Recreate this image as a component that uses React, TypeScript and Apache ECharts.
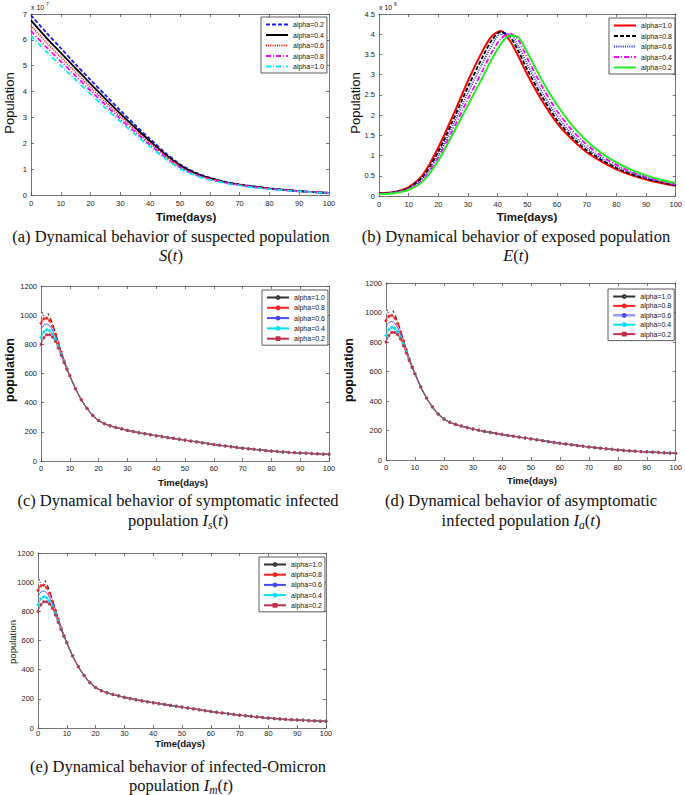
import React, { useEffect, useRef } from "react";
import * as echarts from "echarts";

// ---------- (a) S(t), values in units of 10^7 ----------
const T_S = [0, 5, 10, 15, 20, 25, 30, 35, 40, 45, 50, 55, 60, 65, 70, 75, 80, 85, 90, 95, 100];
const S_A02 = [6.95, 6.3, 5.68, 5.05, 4.45, 3.86, 3.27, 2.7, 2.16, 1.64, 1.19, 0.88, 0.67, 0.52, 0.41, 0.33, 0.26, 0.2, 0.15, 0.11, 0.08];
const S_A04 = [6.75, 6.1, 5.5, 4.9, 4.3, 3.72, 3.15, 2.6, 2.08, 1.58, 1.15, 0.85, 0.65, 0.5, 0.4, 0.32, 0.25, 0.2, 0.15, 0.11, 0.08];
const S_A06 = [6.55, 5.92, 5.33, 4.75, 4.16, 3.6, 3.04, 2.51, 2.0, 1.52, 1.1, 0.82, 0.63, 0.49, 0.39, 0.31, 0.25, 0.19, 0.15, 0.11, 0.08];
const S_A08 = [6.35, 5.74, 5.17, 4.6, 4.03, 3.48, 2.94, 2.43, 1.93, 1.47, 1.06, 0.79, 0.61, 0.48, 0.38, 0.3, 0.24, 0.19, 0.14, 0.11, 0.08];
const S_A10 = [6.15, 5.56, 5.0, 4.45, 3.9, 3.36, 2.84, 2.34, 1.86, 1.41, 1.02, 0.76, 0.59, 0.46, 0.37, 0.29, 0.23, 0.18, 0.14, 0.1, 0.07];
const S_TICKS = { min: 0, max: 7, interval: 1 };

// ---------- (b) E(t), values in units of 10^6 ----------
const T_E = [0, 5, 10, 15, 20, 25, 30, 35, 38, 41, 44, 47, 50, 55, 60, 65, 70, 75, 80, 85, 90, 95, 100];
const E_A10 = [0.07, 0.1, 0.22, 0.55, 1.2, 2.0, 2.85, 3.6, 3.95, 4.08, 3.85, 3.45, 3.0, 2.35, 1.8, 1.4, 1.08, 0.85, 0.66, 0.52, 0.41, 0.32, 0.25];
const E_A08 = [0.07, 0.09, 0.2, 0.5, 1.1, 1.88, 2.7, 3.45, 3.85, 4.06, 3.95, 3.58, 3.12, 2.45, 1.88, 1.46, 1.13, 0.89, 0.69, 0.54, 0.43, 0.34, 0.26];
const E_A06 = [0.06, 0.09, 0.19, 0.46, 1.02, 1.76, 2.56, 3.3, 3.72, 4.0, 4.0, 3.7, 3.25, 2.56, 1.98, 1.53, 1.19, 0.93, 0.72, 0.57, 0.45, 0.35, 0.27];
const E_A04 = [0.06, 0.08, 0.17, 0.42, 0.95, 1.65, 2.4, 3.12, 3.55, 3.88, 4.02, 3.85, 3.4, 2.7, 2.1, 1.63, 1.27, 0.99, 0.77, 0.6, 0.47, 0.37, 0.29];
const E_A02 = [0.05, 0.07, 0.15, 0.38, 0.88, 1.55, 2.25, 2.95, 3.38, 3.75, 3.97, 3.92, 3.55, 2.85, 2.25, 1.75, 1.36, 1.06, 0.83, 0.65, 0.51, 0.4, 0.32];
const E_TICKS = { min: 0, max: 4.5, interval: 0.5 };

// ---------- (c)(d)(e) infected populations ----------
const T_I = [0, 1, 2, 3, 4, 5, 6, 7, 8, 9, 10, 12, 14, 16, 18, 20, 22, 24, 26, 28, 30, 32, 34, 36, 38, 40, 42, 44, 46, 48, 50, 52, 54, 56, 58, 60, 62, 64, 66, 68, 70, 72, 74, 76, 78, 80, 82, 84, 86, 88, 90, 92, 94, 96, 98, 100];
const I_HEAD_A10 = [1002, 1025, 1020, 990, 940, 880, 815, 750, 690, 635];
const I_HEAD_A08 = [945, 975, 980, 962, 925, 870, 810, 748, 688, 634];
const I_HEAD_A06 = [905, 932, 940, 928, 898, 855, 800, 742, 685, 632];
const I_HEAD_A04 = [845, 885, 900, 893, 870, 835, 787, 735, 680, 630];
const I_HEAD_A02 = [800, 845, 865, 865, 850, 820, 775, 725, 675, 628];
const I_TAIL = [585, 495, 420, 360, 312, 278, 256, 241, 230, 220, 210, 202, 194, 187, 180, 173, 167, 161, 155, 149, 143, 137, 131, 125, 119, 113, 108, 103, 98, 93, 88, 84, 80, 76, 72, 68, 65, 62, 59, 57, 55, 53, 51, 49, 47, 46];
const I_TICKS = { min: 0, max: 1200, interval: 200 };

const X_TICKS = { min: 0, max: 100, interval: 10 };
const ALPHA_ASC = ["alpha=0.2", "alpha=0.4", "alpha=0.6", "alpha=0.8", "alpha=1.0"];
const ALPHA_DESC = ["alpha=1.0", "alpha=0.8", "alpha=0.6", "alpha=0.4", "alpha=0.2"];

const SANS = "Liberation Sans, Arial, sans-serif";
const SERIF = "Liberation Serif, Times New Roman, serif";

// grid boxes [left, top, width, height, xLabelMargin]
const GRIDS = [
  [31, 14, 298, 181, 4],
  [379, 14, 298, 182, 4],
  [41, 286, 288, 175, 3],
  [386, 283, 291, 177, 3],
  [38, 553, 288, 175, 1.5],
];

const axisColor = "#555";
const plain = (v: number) => String(v);

function xAxesFor(gi: number) {
  const common = {
    type: "value",
    gridIndex: gi,
    ...X_TICKS,
    splitLine: { show: false },
    axisLine: { show: true, onZero: false, lineStyle: { color: axisColor, width: 0.8 } },
    axisTick: { show: true, inside: true, length: 3, lineStyle: { color: axisColor, width: 0.8 } },
  };
  return [
    {
      ...common,
      position: "bottom",
      axisLabel: { fontSize: 7.5, color: "#222", margin: GRIDS[gi][4], fontFamily: SANS, formatter: plain },
    },
    { ...common, position: "top", axisLabel: { show: false } },
  ];
}

function yAxesFor(gi: number, ticks: any) {
  const common = {
    type: "value",
    gridIndex: gi,
    ...ticks,
    splitLine: { show: false },
    axisLine: { show: true, onZero: false, lineStyle: { color: axisColor, width: 0.8 } },
    axisTick: { show: true, inside: true, length: 3, lineStyle: { color: axisColor, width: 0.8 } },
  };
  return [
    {
      ...common,
      position: "left",
      axisLabel: { fontSize: 7.5, color: "#222", margin: 4, fontFamily: SANS, formatter: plain },
    },
    { ...common, position: "right", axisLabel: { show: false } },
  ];
}

function pairs(T: number[], V: number[]) {
  return T.map((t, i) => [t, V[i]]);
}

function lineSeries(prefix: string, name: string, gi: number, data: number[][], color: string, type: any, width: number, extra: any = {}) {
  return {
    type: "line",
    name: prefix + name,
    xAxisIndex: gi * 2,
    yAxisIndex: gi * 2,
    data,
    smooth: 0.3,
    showSymbol: false,
    symbol: "none",
    lineStyle: { color, width, type },
    itemStyle: { color },
    ...extra,
  };
}

const I_STYLES: Record<string, any> = {
  "alpha=1.0": { head: I_HEAD_A10, color: "#333333", symbol: "emptyCircle", size: 3.2, width: 1.2 },
  "alpha=0.8": { head: I_HEAD_A08, color: "#ff2020", symbol: "circle", size: 2.4, width: 1 },
  "alpha=0.6": { head: I_HEAD_A06, color: "#4a4aff", symbol: "none", size: 0, width: 1 },
  "alpha=0.4": { head: I_HEAD_A04, color: "#00e0f0", symbol: "circle", size: 2.4, width: 1 },
  "alpha=0.2": { head: I_HEAD_A02, color: "#c0304c", symbol: "rect", size: 2, width: 1 },
};

function infectedSeries(prefix: string, gi: number) {
  return ALPHA_DESC.map((n) => {
    const st = I_STYLES[n];
    return lineSeries(prefix, n, gi, pairs(T_I, [...st.head, ...I_TAIL]), st.color, "solid", st.width, {
      smooth: 0.2,
      showSymbol: st.symbol !== "none",
      symbol: st.symbol,
      symbolSize: st.size,
      itemStyle: {
        color: st.symbol === "emptyCircle" ? "rgba(255,255,255,0)" : st.color,
        borderColor: st.color,
        borderWidth: 0.8,
      },
    });
  });
}

function legendFor(prefix: string, names: string[], left: number, top: number, gap: number, hideSymbol: boolean, extra: any = {}) {
  return {
    orient: "vertical",
    left,
    top,
    data: names.map((n) => ({ name: prefix + n, ...(extra[n] || {}) })),
    formatter: (name: string) => name.slice(prefix.length),
    itemWidth: 22,
    itemHeight: hideSymbol ? 6 : 3.5,
    itemGap: gap,
    padding: [4, 3, 3, 4],
    borderColor: "#333",
    borderWidth: 0.8,
    backgroundColor: "#fff",
    selectedMode: false,
    itemStyle: hideSymbol ? { opacity: 0 } : {},
    textStyle: { fontSize: 7, fontFamily: SANS, color: "#111" },
  };
}

const BLACK_LEGEND = { itemStyle: { color: "#333333", borderColor: "#333333", borderWidth: 0.8 } };

function txt(text: string, x: number, y: number, fontSize: number, opts: any = {}) {
  return {
    type: "text",
    x,
    y,
    rotation: opts.rotation || 0,
    style: {
      text,
      fontSize,
      fontFamily: opts.fontFamily || SANS,
      fontWeight: opts.fontWeight || "normal",
      fill: opts.fill || "#111",
      align: opts.align || "center",
      verticalAlign: "middle",
      textAlign: opts.align || "center",
      textVerticalAlign: "middle",
    },
  };
}

const CAP_FS = 16.5;
const CAP_RICH = {
  n: { fontFamily: SERIF, fontSize: CAP_FS, lineHeight: 22, verticalAlign: "middle", fill: "#111" },
  i: { fontFamily: SERIF, fontSize: CAP_FS, fontStyle: "italic", lineHeight: 22, verticalAlign: "middle", fill: "#111" },
  s: { fontFamily: SERIF, fontSize: 11.5, fontStyle: "italic", lineHeight: 11, verticalAlign: "bottom", fill: "#111" },
};

function cap(rich: string, x: number, y: number) {
  return {
    type: "text",
    x,
    y,
    style: {
      text: rich,
      rich: CAP_RICH,
      fontFamily: SERIF,
      fontSize: CAP_FS,
      fill: "#111",
      align: "center",
      verticalAlign: "middle",
      textAlign: "center",
      textVerticalAlign: "middle",
    },
  };
}

export default function App() {
  const ref = useRef<HTMLDivElement>(null);
  useEffect(() => {
    if (!ref.current) return;
    const chart = echarts.init(ref.current, null, { renderer: "svg" });

    const grid = GRIDS.map(([left, top, width, height]) => ({ left, top, width, height }));
    const xAxis = [0, 1, 2, 3, 4].flatMap((g) => xAxesFor(g));
    const yAxis = [
      ...yAxesFor(0, S_TICKS),
      ...yAxesFor(1, E_TICKS),
      ...yAxesFor(2, I_TICKS),
      ...yAxesFor(3, I_TICKS),
      ...yAxesFor(4, I_TICKS),
    ];

    const sA = [
      lineSeries("a:", "alpha=0.2", 0, pairs(T_S, S_A02), "#1a1aff", [4, 2], 1.8),
      lineSeries("a:", "alpha=0.4", 0, pairs(T_S, S_A04), "#000000", "solid", 1.8),
      lineSeries("a:", "alpha=0.6", 0, pairs(T_S, S_A06), "#ff0000", [1, 1.2], 1.6),
      lineSeries("a:", "alpha=0.8", 0, pairs(T_S, S_A08), "#ff00ff", [5, 2, 1, 2], 1.8),
      lineSeries("a:", "alpha=1.0", 0, pairs(T_S, S_A10), "#00eeee", [5, 2, 1, 2], 1.8),
    ];
    const sB = [
      lineSeries("b:", "alpha=1.0", 1, pairs(T_E, E_A10), "#ff0000", "solid", 2),
      lineSeries("b:", "alpha=0.8", 1, pairs(T_E, E_A08), "#000000", [4, 2], 1.8),
      lineSeries("b:", "alpha=0.6", 1, pairs(T_E, E_A06), "#2222ff", [1, 1.2], 1.6),
      lineSeries("b:", "alpha=0.4", 1, pairs(T_E, E_A04), "#ff00ff", [5, 2, 1, 2], 1.8),
      lineSeries("b:", "alpha=0.2", 1, pairs(T_E, E_A02), "#22ee22", "solid", 2),
    ];

    const series = [...sA, ...sB, ...infectedSeries("c:", 2), ...infectedSeries("d:", 3), ...infectedSeries("e:", 4)];

    const legend = [
      legendFor("a:", ALPHA_ASC, 261, 17, 3.5, true),
      legendFor("b:", ALPHA_DESC, 609, 18, 3.5, true),
      legendFor("c:", ALPHA_DESC, 262, 290, 3.3, false, { "alpha=1.0": BLACK_LEGEND }),
      legendFor("d:", ALPHA_DESC, 608, 289, 2.4, false, {
        "alpha=1.0": BLACK_LEGEND,
        "alpha=0.6": { lineStyle: { width: 2.5, color: "#9a9aff" } },
      }),
      legendFor("e:", ALPHA_DESC, 259, 557, 3.2, false, { "alpha=1.0": BLACK_LEGEND }),
    ];

    const graphic = [
      // exponent labels
      txt("x 10", 31, 7, 7, { align: "left" }),
      txt("7", 46, 3.5, 5, { align: "left" }),
      txt("x 10", 379, 7, 7, { align: "left" }),
      txt("6", 394, 3.5, 5, { align: "left" }),
      // y axis names
      txt("Population", 9, 103, 13, { rotation: Math.PI / 2 }),
      txt("Population", 355, 103, 13, { rotation: Math.PI / 2 }),
      txt("population", 10, 370, 12.5, { rotation: Math.PI / 2, fontWeight: "bold" }),
      txt("population", 349, 370, 12.5, { rotation: Math.PI / 2, fontWeight: "bold" }),
      txt("population", 12, 642, 9.5, { rotation: Math.PI / 2 }),
      // x axis names
      txt("Time(days)", 186, 217, 11.5, { fontWeight: "bold" }),
      txt("Time(days)", 527, 217, 11.5, { fontWeight: "bold" }),
      txt("Time(days)", 183, 482, 9.5, { fontWeight: "bold" }),
      txt("Time(days)", 532, 480, 9.5, { fontWeight: "bold" }),
      txt("Time(days)", 180, 743, 9.5, { fontWeight: "bold" }),
      // captions
      cap("{n|(a) Dynamical behavior of suspected population}", 171, 236),
      cap("{i|S}{n|(}{i|t}{n|)}", 171, 255),
      cap("{n|(b) Dynamical behavior of exposed population}", 516, 236),
      cap("{i|E}{n|(}{i|t}{n|)}", 516, 255),
      cap("{n|(c) Dynamical behavior of symptomatic infected}", 178, 500),
      cap("{n|population }{i|I}{s|s}{n|(}{i|t}{n|)}", 178, 520),
      cap("{n|(d) Dynamical behavior of asymptomatic}", 521, 500),
      cap("{n|infected population }{i|I}{s|a}{n|(}{i|t}{n|)}", 521, 520),
      cap("{n|(e) Dynamical behavior of infected-Omicron}", 178, 766),
      cap("{n|population }{i|I}{s|m}{n|(}{i|t}{n|)}", 181, 785),
    ];

    chart.setOption({
      animation: false,
      backgroundColor: "#fff",
      grid,
      xAxis,
      yAxis,
      series,
      legend,
      graphic,
    });
    return () => chart.dispose();
  }, []);

  return (
    <div
      ref={ref}
      style={{ position: "fixed", left: 0, top: 0, width: 685, height: 795, background: "#fff" }}
    />
  );
}
